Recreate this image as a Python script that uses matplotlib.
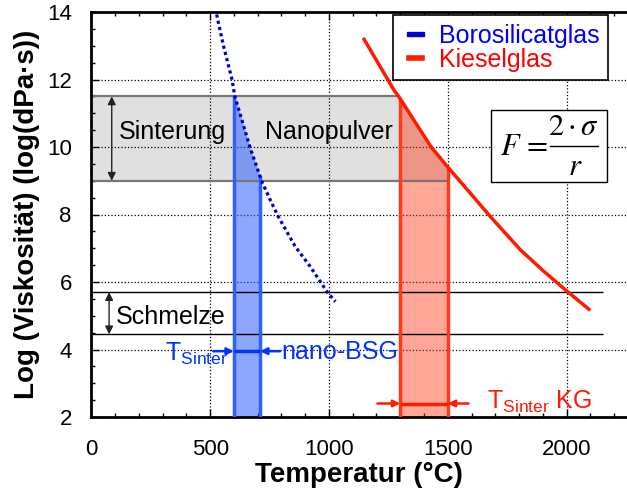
import numpy as np
import matplotlib
matplotlib.use("Agg")
import matplotlib.pyplot as plt
from matplotlib.ticker import MultipleLocator
from matplotlib.patches import Rectangle
from matplotlib.lines import Line2D

# ---- data ----
boro_T = [518, 525, 556, 592, 604, 669, 718, 753, 785, 858, 922, 971, 995, 1027]
boro_v = [14.3, 14.0, 13.0, 12.0, 11.5, 9.96, 8.97, 8.43, 7.96, 7.05, 6.45, 5.93, 5.68, 5.42]
kiesel_T = [1148, 1273, 1294, 1430, 1498, 1590, 1680, 1806, 1900, 1996, 2094]
kiesel_v = [13.19, 11.69, 11.49, 10.0, 9.42, 8.67, 7.93, 6.95, 6.34, 5.76, 5.19]

sinter_range = (9.0, 11.5)
melt_range = (4.45, 5.7)
bsg_band = (600, 710)
kg_band = (1300, 1500)
melt_line_end = 2152

x_ticks = [0, 500, 1000, 1500, 2000]
y_ticks = [2, 4, 6, 8, 10, 12, 14]

plt.rcParams['font.family'] = ['Liberation Sans', 'DejaVu Sans']
plt.rcParams['mathtext.fontset'] = 'custom'
plt.rcParams['mathtext.rm'] = 'Liberation Sans'
plt.rcParams['mathtext.it'] = 'Liberation Sans:italic'
plt.rcParams['mathtext.bf'] = 'Liberation Sans:bold'

W, H = 627, 492
fig = plt.figure(figsize=(W/100, H/100), dpi=100)
ax = fig.add_axes([91.3/W, 75/H, 1 - 91.3/W, 405/H])
ax.set_xlim(0, 2254)
ax.set_ylim(2, 14)


def px(x, y):
    return x / W, 1 - y / H


BLUE = '#0033ff'
RED = '#ff1a00'
GRAY = '#e0e0e0'

# gray sintering band
ax.fill_between([0, kg_band[0]], sinter_range[0], sinter_range[1], color=GRAY, lw=0, zorder=1)
ax.hlines(sinter_range[1], 0, kg_band[0], color='#777777', lw=1.6, zorder=2.5)
ax.hlines(sinter_range[0], 0, kg_band[1], color='#777777', lw=1.6, zorder=2.5)

# melt lines
ax.hlines([melt_range[0], melt_range[1]], 0, melt_line_end, color='black', lw=1.0, zorder=2.5)


def band(a, b, T, v, color, alpha, gray_overlap=False):
    xs = np.concatenate([[a], [t for t in T if a < t < b], [b]])
    top = np.minimum(np.interp(xs, T, v), sinter_range[1])
    if gray_overlap:
        ax.fill_between(xs, sinter_range[0], top, color=GRAY, lw=0, zorder=1)
    ax.fill_between(xs, 2, top, color=color, alpha=alpha, lw=0, zorder=2)
    ax.vlines([a, b], 2, [top[0], top[-1]], color=color, lw=2.5, zorder=3)


band(bsg_band[0], bsg_band[1], boro_T, boro_v, '#2f5fff', 0.55)
band(kg_band[0], kg_band[1], kiesel_T, kiesel_v, '#ff3a1a', 0.45, gray_overlap=True)

# curves
ax.plot(boro_T, boro_v, color='#0000cc', lw=2.3, ls=(0, (1, 1)), zorder=4)
ax.plot(kiesel_T, kiesel_v, color=RED, lw=2.5, zorder=4)

# grid
ax.set_axisbelow('line')
ax.grid(True, which='major', ls=':', color='black', lw=0.9)

# axes styling
for s in ['left', 'bottom', 'top']:
    ax.spines[s].set_linewidth(2)
ax.spines['right'].set_visible(False)
ax.set_xticks(x_ticks)
ax.set_yticks(y_ticks)
ax.xaxis.set_minor_locator(MultipleLocator(100))
ax.yaxis.set_minor_locator(MultipleLocator(0.5))
ax.tick_params(which='both', direction='in', top=True, right=False)
ax.tick_params(which='major', length=6, width=1, labelsize=16, pad=14)
ax.tick_params(axis='x', which='major', pad=16)
ax.tick_params(which='minor', length=3, width=1)
ax.set_xlabel('Temperatur (°C)', fontsize=20, fontweight='bold', labelpad=1)
ax.set_ylabel('Log (Viskosität) (log(dPa·s))', fontsize=20, fontweight='bold', labelpad=5)

# arrows for ranges
arrow_kw = dict(arrowstyle='<|-|>', color='#222222', lw=1.0, mutation_scale=12, shrinkA=0, shrinkB=0)
ax.annotate('', xy=(86, sinter_range[0]), xytext=(86, sinter_range[1]), arrowprops=arrow_kw, zorder=5)
ax.annotate('', xy=(75, melt_range[0]), xytext=(75, melt_range[1]), arrowprops=arrow_kw, zorder=5)

ax.text(115, 10.45, 'Sinterung', fontsize=18, va='center', ha='left', zorder=6)
ax.text(729, 10.45, 'Nanopulver', fontsize=18, va='center', ha='left', zorder=6)
ax.text(104, 4.95, 'Schmelze', fontsize=18, va='center', ha='left', zorder=6)


# T_sinter markers
def tsinter(a, b, y, color, left_start, right_start):
    kw = dict(arrowstyle='-|>', color=color, lw=1.8, mutation_scale=10, shrinkA=0, shrinkB=0)
    ax.annotate('', xy=(a, y), xytext=(left_start, y), arrowprops=kw, zorder=6)
    ax.annotate('', xy=(b, y), xytext=(right_start, y), arrowprops=kw, zorder=6)
    ax.hlines(y, a, b, color=color, lw=2.5, zorder=6)


tsinter(bsg_band[0], bsg_band[1], 3.95, BLUE, 513, 795)
tsinter(kg_band[0], kg_band[1], 2.4, RED, 1204, 1587)

ax.text(573, 3.88, r'$\mathrm{T_{Sinter}}$', fontsize=18, color=BLUE, ha='right', va='center',
        math_fontfamily='custom', zorder=6)
ax.text(798, 3.93, 'nano-BSG', fontsize=18, color=BLUE, ha='left', va='center', zorder=6)
ax.text(1665, 2.45, r'$\mathrm{T_{Sinter}}$ KG', fontsize=18, color=RED, ha='left', va='center',
        math_fontfamily='custom', zorder=6)

# formula box (F = 2·σ / r)
fig.add_artist(Rectangle(px(490.7, 181.7), 116 / W, 71.7 / H, transform=fig.transFigure,
                         fc='white', ec='black', lw=1.0, zorder=8))
fs = 22
fig.text(*px(500, 155), r'$F\,=$', fontsize=fs, ha='left', va='baseline', math_fontfamily='stix', zorder=9)
fig.text(*px(573, 135), r'$2\cdot\sigma$', fontsize=fs, ha='center', va='baseline',
         math_fontfamily='stix', zorder=9)
fig.add_artist(Line2D([550 / W, 598 / W], [1 - 145.7 / H] * 2, transform=fig.transFigure,
                      color='black', lw=1.0, zorder=9))
fig.text(*px(575, 175), r'$r$', fontsize=fs, ha='center', va='baseline', math_fontfamily='stix', zorder=9)

# legend
h_boro = Line2D([], [], color='#33ccff', lw=1.0, marker='s', markersize=2.6,
                markerfacecolor='#0000dd', markeredgecolor='#0000dd')
h_kiesel = Line2D([], [], color=RED, lw=4)
leg = ax.legend([h_boro, h_kiesel], ['Borosilicatglas', 'Kieselglas'],
                loc='upper left', bbox_to_anchor=(393 / W, 1 - 15 / H),
                bbox_transform=fig.transFigure, numpoints=4,
                fontsize=18, frameon=True, fancybox=False, edgecolor='black', framealpha=1,
                handlelength=1.12, handletextpad=0.36, borderpad=0.34, labelspacing=0.0,
                borderaxespad=0)
leg.get_frame().set_linewidth(1.2)
leg.set_zorder(7)
for t, c in zip(leg.get_texts(), ['#0000ff', '#ff0000']):
    t.set_color(c)

fig.savefig('out.png', dpi=100)
